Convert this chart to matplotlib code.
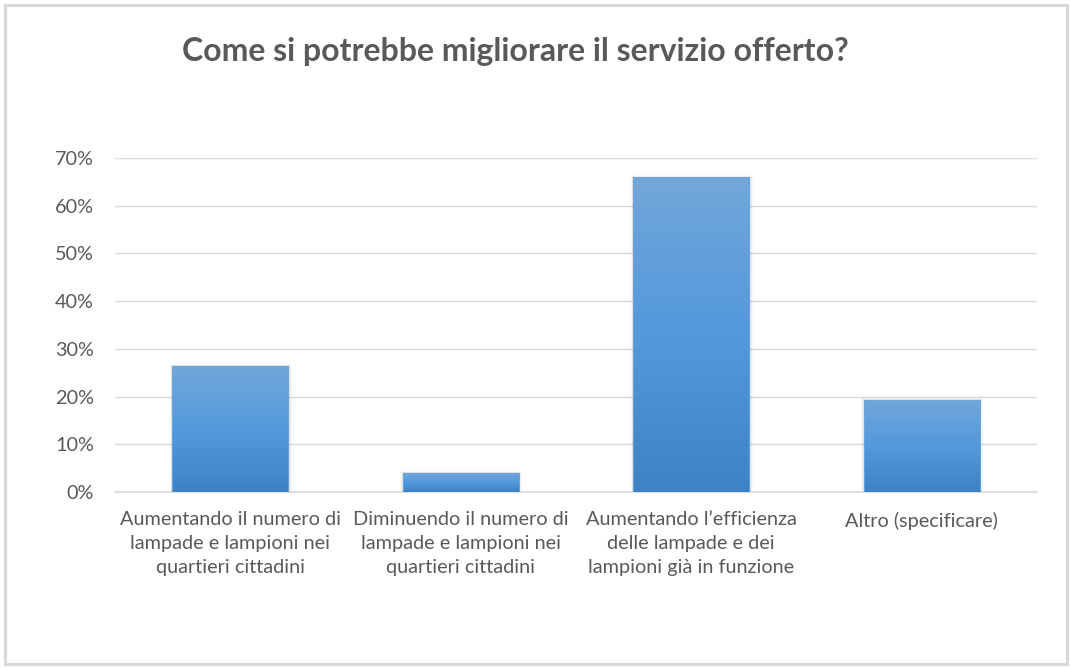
import matplotlib
matplotlib.use("Agg")
import matplotlib.pyplot as plt
import numpy as np
from matplotlib.patches import Rectangle
from matplotlib.colors import LinearSegmentedColormap

# Survey answers (multiple choice, share of respondents)
categories = [
    "Aumentando il numero di\nlampade e lampioni nei\nquartieri cittadini",
    "Diminuendo il numero di\nlampade e lampioni nei\nquartieri cittadini",
    "Aumentando l\u2019efficienza\ndelle lampade e dei\nlampioni gi\u00e0 in funzione",
    "Altro (specificare)",
]
values = [0.264, 0.040, 0.660, 0.193]
yticks = [0.0, 0.1, 0.2, 0.3, 0.4, 0.5, 0.6, 0.7]
ytick_labels = ["0%", "10%", "20%", "30%", "40%", "50%", "60%", "70%"]
title = "Come si potrebbe migliorare il servizio offerto?"

plt.rcParams["font.family"] = ["Lato", "DejaVu Sans"]
text_col = "#595959"

fig = plt.figure(figsize=(10.7, 6.68), dpi=100)
fig.patch.set_facecolor("white")

# outer chart frame
fig.add_artist(Rectangle((5 / 1070, 4 / 668), 1062 / 1070, 659 / 668,
                         transform=fig.transFigure, fill=False,
                         edgecolor="#d9d9d9", linewidth=2.2))

ax = fig.add_axes([115 / 1070, 1 - 492 / 668, 922 / 1070, 334 / 668])
ax.set_xlim(-0.5, len(categories) - 0.5)
ax.set_ylim(0, 0.7)

ax.set_yticks(yticks)
ax.set_yticklabels(ytick_labels)
ax.set_xticks(range(len(categories)))
ax.set_xticklabels(categories, linespacing=1.48)
ax.tick_params(axis="both", length=0, colors=text_col, labelsize=14.3)
ax.tick_params(axis="y", pad=15)
ax.tick_params(axis="x", pad=14)
for lab in ax.get_yticklabels() + ax.get_xticklabels():
    lab.set_color(text_col)

ax.grid(axis="y", color="#d9d9d9", linewidth=1.0)
ax.set_axisbelow(True)
for s in ["left", "right", "top"]:
    ax.spines[s].set_visible(False)
ax.spines["bottom"].set_color("#d9d9d9")
ax.spines["bottom"].set_linewidth(1.2)

cmap = LinearSegmentedColormap.from_list("bar", ["#3d82c4", "#5399dc", "#72a7da"])
gradient = np.linspace(0, 1, 256).reshape(-1, 1)
width = 0.505

bars = ax.bar(range(len(categories)), values, width=width, color="none",
              edgecolor="none", zorder=3)
for i, (b, v) in enumerate(zip(bars, values)):
    x0 = b.get_x()
    # soft drop shadow around the bar
    for k, a in enumerate([0.06, 0.04, 0.025]):
        off = 0.005 * (k + 1)
        sh = Rectangle((x0 - off * 0.6, 0), width + off * 1.6,
                       v + 0.0012 * (k + 1),
                       facecolor="#000000", alpha=a, edgecolor="none", zorder=2)
        ax.add_patch(sh)
    im = ax.imshow(gradient, extent=[x0, x0 + width, 0, v], origin="lower",
                   cmap=cmap, aspect="auto", zorder=4)
    im.set_clip_path(b)
    ax.add_patch(Rectangle((x0, 0), width, v, fill=False,
                           edgecolor="#6fa6dc", linewidth=0.6, zorder=5))

ax.set_xlim(-0.5, len(categories) - 0.5)
ax.set_ylim(0, 0.7)

fig.text(515 / 1070, 1 - 52 / 668, title, ha="center", va="center",
         fontsize=23, fontweight="bold", color=text_col)

fig.savefig("out.png", dpi=100, facecolor="white")
